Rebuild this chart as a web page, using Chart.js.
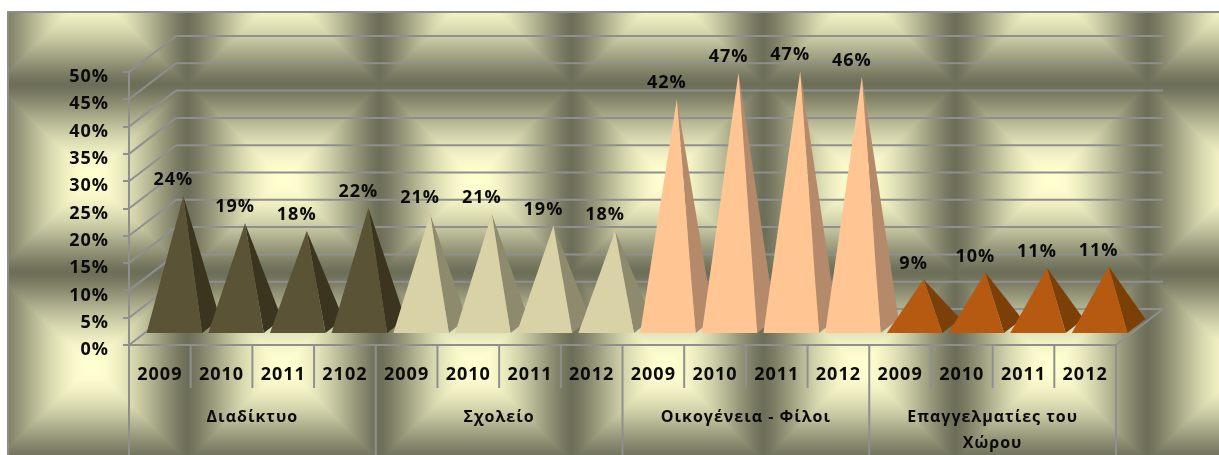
<!DOCTYPE html>
<html>
<head>
<meta charset="utf-8">
<script src="https://cdn.jsdelivr.net/npm/chart.js@4"></script>
<style>
  html, body { margin: 0; background: #fff; }
  canvas { display: block; filter: blur(0.5px); }
</style>
</head>
<body>
<canvas id="chart" width="1219" height="455"></canvas>
<script>
// ===== Data =====
const years = ['2009', '2010', '2011', '2102', '2009', '2010', '2011', '2012',
  '2009', '2010', '2011', '2012', '2009', '2010', '2011', '2012'];
const groups = ['Διαδίκτυο', 'Σχολείο', 'Οικογένεια - Φίλοι', ['Επαγγελματίες του', 'Χώρου']];
const values = [0.24, 0.19, 0.176, 0.218, 0.207, 0.207, 0.186, 0.176,
  0.417, 0.466, 0.469, 0.459, 0.087, 0.10, 0.108, 0.111];
const frontColors = ['#5a5335', '#d8d2a6', '#ffc693', '#b55a10'];
const sideColors = ['#3b3520', '#8e8a6e', '#b58a6a', '#7c3f08'];

// ===== Look =====
const fontFamily = '"Open Sans", Lato, sans-serif';
const textColor = '#0a0a0a';
const lineColor = '#8f908e';
const depthX = 47;
const depthY = 36;

// ===== Background tile =====
function makeTile(ctx) {
  const w = 192, h = 188;
  const tile = document.createElement('canvas');
  tile.width = w;
  tile.height = h;
  const tctx = tile.getContext('2d');
  const img = tctx.createImageData(w, h);
  const bright = [255, 255, 208], dark = [109, 110, 88];
  for (let y = 0; y < h; y++) {
    for (let x = 0; x < w; x++) {
      const t = Math.max(Math.abs(x - w / 2) / (w / 2), Math.abs(y - h / 2) / (h / 2));
      const b = Math.pow(Math.cos(Math.PI * t / 2), 1.3);
      const i = (y * w + x) * 4;
      for (let c = 0; c < 3; c++) img.data[i + c] = dark[c] + (bright[c] - dark[c]) * b;
      img.data[i + 3] = 255;
    }
  }
  tctx.putImageData(img, 0, 0);
  return ctx.createPattern(tile, 'repeat');
}

const backgroundPlugin = {
  id: 'background',
  beforeDraw(chart) {
    const { ctx, width, height } = chart;
    ctx.letterSpacing = '1px';
    ctx.save();
    ctx.translate(-5, 84);
    ctx.fillStyle = makeTile(ctx);
    ctx.fillRect(12, -73, width, height);
    ctx.restore();
    ctx.fillStyle = '#8e8e86';
    ctx.fillRect(7, 11, width - 7, 2);
    ctx.fillRect(7, 11, 2, height - 11);
  },
};

function line(ctx, x1, y1, x2, y2) {
  ctx.beginPath();
  ctx.moveTo(x1, y1);
  ctx.lineTo(x2, y2);
  ctx.stroke();
}

// ===== Walls, floor and multi level axis lines =====
const wallsPlugin = {
  id: 'walls',
  beforeDatasetsDraw(chart) {
    const { ctx, chartArea: a, scales } = chart;
    ctx.save();
    ctx.strokeStyle = lineColor;
    ctx.lineWidth = 2;
    scales.y.ticks.forEach((t) => {
      const y = scales.y.getPixelForValue(t.value);
      line(ctx, a.left, y, a.left + depthX, y - depthY);
      line(ctx, a.left + depthX, y - depthY, a.right + depthX, y - depthY);
    });
    line(ctx, a.left, a.top, a.left, chart.height);
    line(ctx, a.left, a.bottom, a.right, a.bottom);
    line(ctx, a.right, a.bottom, a.right + depthX, a.bottom - depthY);
    const yearBottom = scales.x.bottom;
    const band = (a.right - a.left) / years.length;
    years.forEach((_, i) => {
      const x = a.left + band * (i + 1);
      if ((i + 1) % 4 === 0) line(ctx, x, a.bottom, x, chart.height);
      else line(ctx, x, a.bottom, x, yearBottom);
    });
    ctx.restore();
  },
};

// ===== Pyramids and their labels, from the bar elements =====
const pyramidPlugin = {
  id: 'pyramids',
  afterDatasetsDraw(chart) {
    const { ctx } = chart;
    const bars = chart.getDatasetMeta(0).data;
    ctx.save();
    bars.forEach((bar, i) => {
      const group = Math.floor(i / 4);
      const cx = bar.x + depthX / 2;
      const cy = bar.base - depthY / 2;
      const apexY = bar.y - depthY / 2;
      const half = bar.width / 2;
      const fl = [cx - half - 9, cy + 7];
      const fr = [cx + half - 9, cy + 7];
      const br = [cx + half + 9, cy - 7];
      ctx.fillStyle = sideColors[group];
      ctx.beginPath();
      ctx.moveTo(fr[0], fr[1]);
      ctx.lineTo(br[0], br[1]);
      ctx.lineTo(cx, apexY);
      ctx.closePath();
      ctx.fill();
      ctx.fillStyle = frontColors[group];
      ctx.beginPath();
      ctx.moveTo(fl[0], fl[1]);
      ctx.lineTo(fr[0], fr[1]);
      ctx.lineTo(cx, apexY);
      ctx.closePath();
      ctx.fill();
    });
    ctx.fillStyle = textColor;
    ctx.font = 'bold 18px ' + fontFamily;
    ctx.textAlign = 'center';
    ctx.textBaseline = 'middle';
    bars.forEach((bar, i) => {
      const label = Math.round(values[i] * 100) + '%';
      ctx.fillText(label, bar.x + depthX / 2 - 10, bar.y - depthY / 2 - 16);
    });
    ctx.restore();
  },
};

new Chart(document.getElementById('chart'), {
  type: 'bar',
  data: {
    labels: years,
    datasets: [{
      data: values,
      backgroundColor: 'transparent',
      barPercentage: 0.9,
      categoryPercentage: 1,
    }],
  },
  options: {
    responsive: false,
    animation: false,
    layout: { padding: { top: 72, right: 103, bottom: 0, left: 0 } },
    plugins: { legend: { display: false }, tooltip: { enabled: false } },
    scales: {
      y: {
        min: 0,
        max: 0.5,
        afterFit: (s) => { s.width = 129; },
        border: { display: false },
        grid: { drawOnChartArea: false, tickLength: 6, color: lineColor, lineWidth: 2 },
        ticks: {
          stepSize: 0.05,
          padding: 14,
          labelOffset: 5,
          color: textColor,
          font: { family: fontFamily, size: 18, weight: 'bold' },
          callback: (v) => Math.round(v * 100) + '%',
        },
      },
      x: {
        afterFit: (s) => { s.height = 43; },
        border: { display: false },
        grid: { display: false },
        ticks: {
          padding: 11.5,
          maxRotation: 0,
          autoSkip: false,
          color: textColor,
          font: { family: fontFamily, size: 18, weight: 'bold' },
        },
      },
      x2: {
        type: 'category',
        position: 'bottom',
        labels: groups,
        display: true,
        offset: true,
        afterFit: (s) => { s.height = 67; },
        border: { display: false },
        grid: { display: false },
        ticks: {
          padding: 9,
          maxRotation: 0,
          autoSkip: false,
          color: textColor,
          font: { family: fontFamily, size: 16, weight: 'bold', lineHeight: 1.6 },
        },
      },
    },
  },
  plugins: [backgroundPlugin, wallsPlugin, pyramidPlugin],
});
</script>
</body>
</html>
